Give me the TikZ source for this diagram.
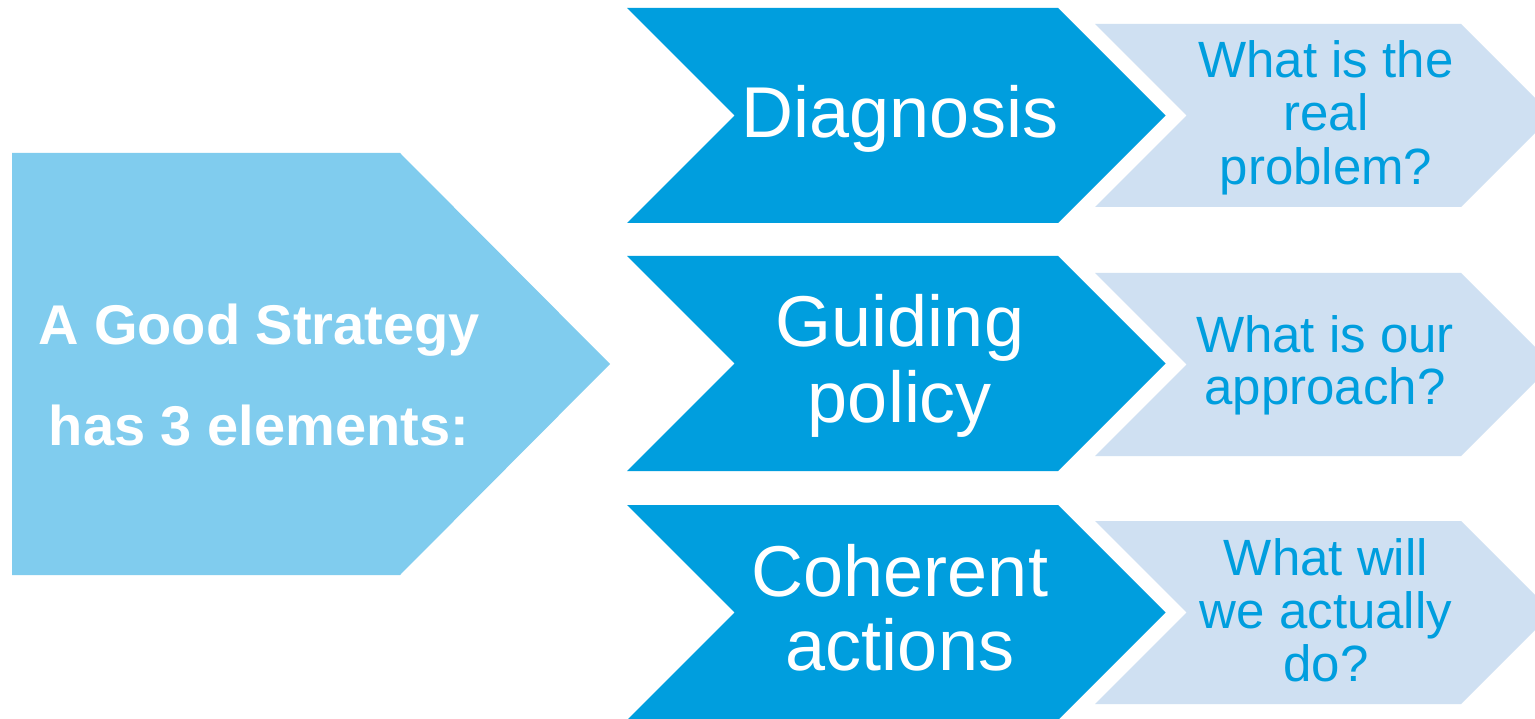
\documentclass[tikz,border=0pt]{standalone}
\usepackage{fontspec}
\setmainfont{Liberation Sans}
\definecolor{dkblue}{HTML}{009EDE}
\definecolor{ltblue}{HTML}{CFE0F2}
\definecolor{mdblue}{HTML}{80CCEE}
\newcommand{\stk}[1]{\begin{tabular}[t]{@{}c@{}}#1\end{tabular}}
\tikzset{
  bigshape/.style={fill=mdblue},
  darkchev/.style={fill=dkblue},
  lightchev/.style={fill=ltblue},
  bigtxt/.style={anchor=base, inner sep=0pt, text=white, font=\fontsize{56}{101}\selectfont\bfseries},
  darktxt/.style={anchor=base, inner sep=0pt, text=white},
  lighttxt/.style={anchor=base, inner sep=0pt, text=dkblue},
}
\begin{document}
\begin{tikzpicture}[x=1pt,y=-1pt]
\clip (0,0) rectangle (1535,719);
\fill[white] (0,0) rectangle (1535,719);
% big pentagon
\path[bigshape] (12,153) -- (400,153) -- (610,364) -- (400,575) -- (12,575) -- cycle;
% dark chevrons
\path[darkchev] (627,8) -- (1058,8) -- (1165.5,115.5) -- (1058,223) -- (627,223) -- (734.5,115.5) -- cycle;
\path[darkchev] (627,256) -- (1058,256) -- (1165.5,363.5) -- (1058,471) -- (627,471) -- (734.5,363.5) -- cycle;
\path[darkchev] (627,505) -- (1058,505) -- (1165.5,612.5) -- (1058,720) -- (627,720) -- (734.5,612.5) -- cycle;
% light chevrons
\path[lightchev] (1095,24) -- (1461,24) -- (1552.5,115.5) -- (1461,207) -- (1095,207) -- (1186.5,115.5) -- cycle;
\path[lightchev] (1095,273) -- (1461,273) -- (1552.5,364.5) -- (1461,456) -- (1095,456) -- (1186.5,364.5) -- cycle;
\path[lightchev] (1095,521) -- (1461,521) -- (1552.5,612.5) -- (1461,704) -- (1095,704) -- (1186.5,612.5) -- cycle;
% texts
\node[bigtxt] (goal) at (259,345) {\stk{A Good Strategy\\has 3 elements:}};
\node[darktxt, font=\fontsize{72}{75}\selectfont] (diag) at (900,137.5) {Diagnosis};
\node[darktxt, font=\fontsize{72}{76}\selectfont] (policy) at (900,346.5) {\stk{Guiding\\policy}};
\node[darktxt, font=\fontsize{72}{73}\selectfont] (actions) at (900,596) {\stk{Coherent\\actions}};
\node[lighttxt, font=\fontsize{51}{53.5}\selectfont] (q1) at (1326,77.5) {\stk{What is the\\real\\problem?}};
\node[lighttxt, font=\fontsize{51}{48.5}\selectfont] (q2) at (1325,353) {\stk{What is our\\approach?}};
\node[lighttxt, font=\fontsize{51}{53}\selectfont] (q3) at (1326,575) {\stk{What will\\we actually\\do?}};
\end{tikzpicture}
\end{document}
